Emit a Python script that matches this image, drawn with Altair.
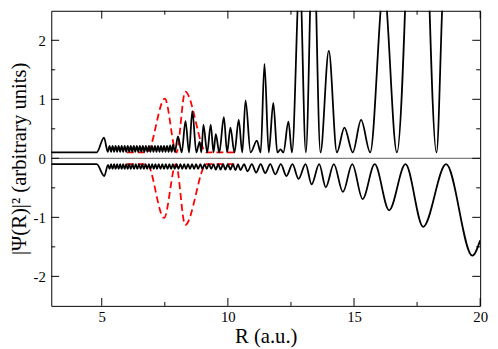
import altair as alt
import pandas as pd

# ---- data ----
upper_curve = [
    (3.0, 0.10), (4.80, 0.10), (5.09, 0.35), (5.24, 0.11),
    (5.31, 0.21), (5.37, 0.11), (5.43, 0.21), (5.49, 0.11), (5.55, 0.21), (5.61, 0.11),
    (5.67, 0.21), (5.73, 0.11), (5.79, 0.21), (5.85, 0.11), (5.91, 0.21), (5.97, 0.11),
    (6.03, 0.21), (6.09, 0.11), (6.15, 0.21), (6.21, 0.11), (6.27, 0.21), (6.33, 0.11),
    (6.39, 0.21), (6.45, 0.11), (6.51, 0.21), (6.57, 0.11), (6.63, 0.21), (6.69, 0.11),
    (6.75, 0.21), (6.81, 0.11), (6.87, 0.21), (6.93, 0.11), (6.99, 0.21), (7.05, 0.11),
    (7.11, 0.21), (7.17, 0.11), (7.23, 0.21), (7.29, 0.11), (7.35, 0.21), (7.41, 0.11),
    (7.47, 0.21), (7.53, 0.11), (7.59, 0.21), (7.65, 0.11), (7.71, 0.22), (7.77, 0.11),
    (7.83, 0.23), (7.90, 0.11),
    (8.02, 0.37), (8.17, 0.10), (8.32, 0.63), (8.46, 0.10), (8.59, 0.80), (8.75, 0.10),
    (8.88, 0.28), (8.95, 0.10), (9.03, 0.57), (9.18, 0.10), (9.32, 0.57), (9.43, 0.10),
    (9.52, 0.41), (9.66, 0.10), (9.84, 0.70), (9.97, 0.10), (10.10, 0.52), (10.26, 0.10),
    (10.43, 0.65), (10.57, 0.10), (10.70, 0.98), (10.90, 0.10), (11.15, 0.30), (11.30, 0.10),
    (11.45, 1.60), (11.62, 0.10), (11.80, 0.94), (11.96, 0.10), (12.09, 0.15), (12.20, 0.10),
    (12.40, 0.62), (12.54, 0.10), (12.85, 3.10), (13.09, 0.10), (13.38, 4.00), (13.67, 0.10),
    (14.00, 1.82), (14.32, 0.10), (14.62, 0.52), (14.95, 0.10), (15.28, 0.65), (15.64, 0.10),
    (16.18, 2.90), (16.70, 0.10), (17.55, 7.50), (18.27, 0.10), (18.50, 2.60), (19.00, 7.00),
    (20.0, 9.00),
]

lower_curve = [
    (3.0, -0.10), (4.80, -0.10), (5.10, -0.30), (5.25, -0.11),
    (5.31, -0.18), (5.37, -0.10), (5.43, -0.18), (5.49, -0.10), (5.55, -0.18), (5.61, -0.10),
    (5.67, -0.18), (5.73, -0.10), (5.79, -0.18), (5.85, -0.10), (5.91, -0.18), (5.97, -0.10),
    (6.03, -0.18), (6.09, -0.10), (6.15, -0.18), (6.22, -0.10), (6.28, -0.18), (6.35, -0.10),
    (6.41, -0.18), (6.48, -0.10), (6.54, -0.18), (6.61, -0.10), (6.67, -0.18), (6.74, -0.10),
    (6.80, -0.18), (6.87, -0.10), (6.93, -0.18), (7.00, -0.10), (7.06, -0.18), (7.13, -0.10),
    (7.19, -0.18), (7.26, -0.10), (7.33, -0.18), (7.40, -0.10), (7.47, -0.18), (7.54, -0.10),
    (7.61, -0.18), (7.68, -0.10), (7.75, -0.18), (7.82, -0.10), (7.89, -0.18), (7.97, -0.10),
    (8.04, -0.18), (8.12, -0.10), (8.19, -0.18), (8.27, -0.10), (8.34, -0.18), (8.42, -0.10),
    (8.50, -0.18), (8.58, -0.10), (8.66, -0.18), (8.74, -0.10), (8.82, -0.18), (8.91, -0.10),
    (8.99, -0.18), (9.08, -0.10), (9.16, -0.18), (9.25, -0.10), (9.34, -0.18), (9.43, -0.10),
    (9.52, -0.19), (9.62, -0.10), (9.71, -0.19), (9.81, -0.10), (9.90, -0.19), (10.00, -0.10),
    (10.10, -0.19), (10.20, -0.10), (10.30, -0.20), (10.40, -0.10), (10.50, -0.20), (10.64, -0.10),
    (10.78, -0.22), (10.95, -0.10), (11.12, -0.24), (11.30, -0.10), (11.48, -0.25), (11.68, -0.10),
    (11.88, -0.27), (12.10, -0.10), (12.32, -0.30), (12.56, -0.10), (12.80, -0.35), (13.08, -0.10),
    (13.32, -0.44), (13.62, -0.10), (13.88, -0.49), (14.20, -0.10), (14.56, -0.57), (14.93, -0.10),
    (15.34, -0.69), (15.82, -0.10), (16.39, -0.88), (17.04, -0.10), (17.74, -1.16), (18.65, -0.10),
    (19.69, -1.65), (20.0, -1.39),
]

red_upper = [(6.0, 0.10), (6.80, 0.10), (7.50, 1.01), (7.96, 0.10), (8.31, 1.13), (9.15, 0.10), (10.4, 0.10)]
red_lower = [(6.0, -0.10), (6.80, -0.10), (7.47, -1.01), (7.94, -0.10), (8.31, -1.13), (9.15, -0.10), (10.4, -0.10)]

zero_level = [0.0]
x_major = [5, 10, 15, 20]
x_minor = [7.5, 12.5, 17.5]
y_major = [-2, -1, 0, 1, 2]
y_minor = [-1.5, -0.5, 0.5, 1.5]

W, H = 436, 300
FONT = "Liberation Serif"

xscale = alt.Scale(domain=[3, 20], nice=False, zero=False)
yscale = alt.Scale(domain=[-2.5, 2.5], nice=False, zero=False)


def df(pts):
    return pd.DataFrame({"R": [p[0] for p in pts], "P": [p[1] for p in pts]})


x_axis = alt.Axis(values=x_major, labelPadding=4, format="d",
                  title="R (a.u.)", titlePadding=1)
y_axis = alt.Axis(values=y_major, labelPadding=6, format="d",
                  labelExpr="replace(datum.label, '\u2212', '-')",
                  title="|Ψ(R)|² (arbitrary units)", titlePadding=4)

X = alt.X("R:Q", scale=xscale, axis=x_axis)
Y = alt.Y("P:Q", scale=yscale, axis=y_axis)

zero = alt.Chart(df([(3.0, zero_level[0]), (20.0, zero_level[0])])).mark_line(
    color="#808080", strokeWidth=1.2).encode(x=X, y=Y)


def red(pts):
    return alt.Chart(df(pts)).mark_line(color="#ff0000", strokeWidth=1.8, strokeDash=[7, 4],
                                        interpolate="monotone", clip=True).encode(x=X, y=Y)


def black(pts):
    return alt.Chart(df(pts)).mark_line(color="black", strokeWidth=1.8,
                                        interpolate="monotone", clip=True).encode(x=X, y=Y)


def xticks(vals, y0, y1):
    return alt.Chart(pd.DataFrame({"R": vals})).mark_rule(color="black", strokeWidth=1).encode(
        x=X, y=alt.value(y0), y2=alt.value(y1)
    )


def yticks(vals, x0, x1):
    return alt.Chart(pd.DataFrame({"P": vals})).mark_rule(color="black", strokeWidth=1).encode(
        y=Y, x=alt.value(x0), x2=alt.value(x1)
    )


layers = [
    zero,
    red(red_upper), red(red_lower),
    black(upper_curve), black(lower_curve),
    xticks(x_major, H, H - 8), xticks(x_minor, H, H - 4),
    xticks(x_major, 0, 8), xticks(x_minor, 0, 4),
    yticks(y_major, 0, 8), yticks(y_minor, 0, 4),
    yticks(y_major, W, W - 8), yticks(y_minor, W, W - 4),
]

chart = alt.layer(*layers).properties(
    width=W, height=H,
    autosize=alt.AutoSizeParams(type="none"),
    padding={"left": 44, "top": 0, "right": 10, "bottom": 40},
).configure(font=FONT).configure_axis(
    ticks=False, domain=False, grid=False, labelFlush=False, labelOverlap=False,
    labelFont=FONT, labelFontSize=15, labelColor="black",
    titleFont=FONT, titleFontSize=21, titleFontWeight="normal", titleColor="black",
).configure_view(stroke="black", strokeWidth=1)

chart.save("out.html", embed_options={"renderer": "svg", "actions": False})
